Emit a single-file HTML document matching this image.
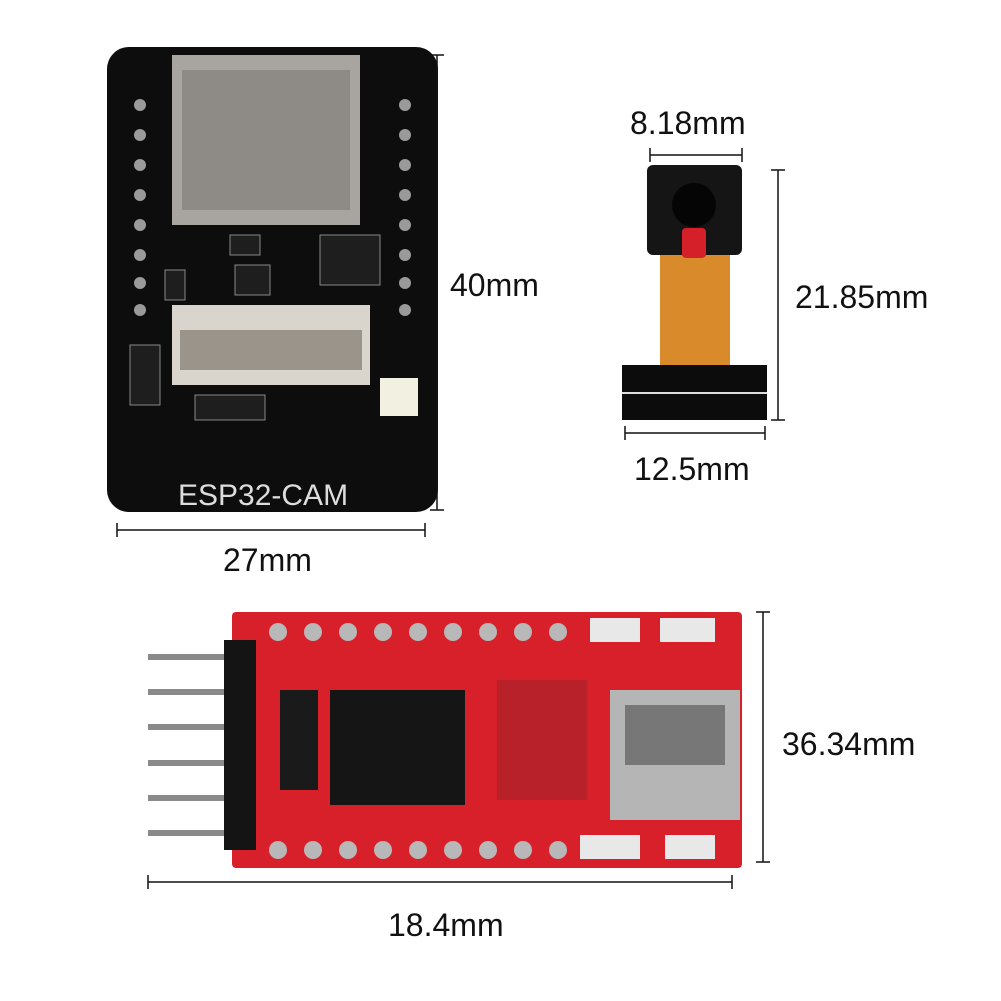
<!DOCTYPE html>
<html><head><style>
body{margin:0;width:1001px;height:1001px;background:#fff;position:relative;overflow:hidden;font-family:"Liberation Sans",sans-serif}
.t{position:absolute;font-size:32px;color:#111;white-space:nowrap}
</style></head><body>
<svg width="1001" height="1001" style="position:absolute;left:0;top:0">
<rect x="107" y="47" width="331" height="465" rx="22" fill="#0d0d0d"/>
<rect x="172" y="55" width="188" height="170" fill="#a8a5a0"/>
<rect x="182" y="70" width="168" height="140" fill="#8e8b86"/>
<rect x="172" y="305" width="198" height="80" fill="#d9d4cc"/>
<rect x="180" y="330" width="182" height="40" fill="#9a948a"/>
<rect x="380" y="378" width="38" height="38" fill="#f2f0e0"/>
<g fill="#1e1e1e" stroke="#888" stroke-width="1"><rect x="230" y="235" width="30" height="20"/><rect x="320" y="235" width="60" height="50"/><rect x="235" y="265" width="35" height="30"/><rect x="165" y="270" width="20" height="30"/><rect x="195" y="395" width="70" height="25"/><rect x="130" y="345" width="30" height="60"/></g>
<g fill="#9a9a9a">
<circle cx="140" cy="105" r="6"/><circle cx="140" cy="135" r="6"/><circle cx="140" cy="165" r="6"/><circle cx="140" cy="195" r="6"/><circle cx="140" cy="225" r="6"/><circle cx="140" cy="255" r="6"/><circle cx="140" cy="283" r="6"/><circle cx="140" cy="310" r="6"/>
<circle cx="405" cy="105" r="6"/><circle cx="405" cy="135" r="6"/><circle cx="405" cy="165" r="6"/><circle cx="405" cy="195" r="6"/><circle cx="405" cy="225" r="6"/><circle cx="405" cy="255" r="6"/><circle cx="405" cy="283" r="6"/><circle cx="405" cy="310" r="6"/>
</g>
<text x="178" y="505" font-size="30" fill="#ddd" font-family="Liberation Sans">ESP32-CAM</text>
<g stroke="#111" stroke-width="1.5">
<line x1="437" y1="55" x2="437" y2="510"/><line x1="430" y1="55" x2="444" y2="55"/><line x1="430" y1="510" x2="444" y2="510"/>
<line x1="117" y1="530" x2="425" y2="530"/><line x1="117" y1="523" x2="117" y2="537"/><line x1="425" y1="523" x2="425" y2="537"/>
<line x1="650" y1="155" x2="742" y2="155"/><line x1="650" y1="148" x2="650" y2="162"/><line x1="742" y1="148" x2="742" y2="162"/>
<line x1="778" y1="170" x2="778" y2="420"/><line x1="771" y1="170" x2="785" y2="170"/><line x1="771" y1="420" x2="785" y2="420"/>
<line x1="625" y1="433" x2="765" y2="433"/><line x1="625" y1="426" x2="625" y2="440"/><line x1="765" y1="426" x2="765" y2="440"/>
<line x1="763" y1="612" x2="763" y2="862"/><line x1="756" y1="612" x2="770" y2="612"/><line x1="756" y1="862" x2="770" y2="862"/>
<line x1="148" y1="882" x2="732" y2="882"/><line x1="148" y1="875" x2="148" y2="889"/><line x1="732" y1="875" x2="732" y2="889"/>
</g>
<rect x="660" y="250" width="70" height="118" fill="#d98a2a"/>
<rect x="647" y="165" width="95" height="90" rx="6" fill="#151515"/>
<circle cx="694" cy="205" r="22" fill="#050505"/>
<rect x="682" y="228" width="24" height="30" rx="4" fill="#d5202a"/>
<rect x="622" y="365" width="145" height="55" fill="#0c0c0c"/>
<line x1="622" y1="393" x2="767" y2="393" stroke="#ddd" stroke-width="2"/>
<g fill="#8a8a8a"><rect x="148" y="654" width="100" height="6"/><rect x="148" y="689" width="100" height="6"/><rect x="148" y="724" width="100" height="6"/><rect x="148" y="760" width="100" height="6"/><rect x="148" y="795" width="100" height="6"/><rect x="148" y="830" width="100" height="6"/></g>
<rect x="232" y="612" width="510" height="256" rx="4" fill="#d8202a"/>
<rect x="224" y="640" width="32" height="210" fill="#141414"/>
<g fill="#b8b8b8">
<circle cx="278" cy="632" r="9"/><circle cx="313" cy="632" r="9"/><circle cx="348" cy="632" r="9"/><circle cx="383" cy="632" r="9"/><circle cx="418" cy="632" r="9"/><circle cx="453" cy="632" r="9"/><circle cx="488" cy="632" r="9"/><circle cx="523" cy="632" r="9"/><circle cx="558" cy="632" r="9"/>
<circle cx="278" cy="850" r="9"/><circle cx="313" cy="850" r="9"/><circle cx="348" cy="850" r="9"/><circle cx="383" cy="850" r="9"/><circle cx="418" cy="850" r="9"/><circle cx="453" cy="850" r="9"/><circle cx="488" cy="850" r="9"/><circle cx="523" cy="850" r="9"/><circle cx="558" cy="850" r="9"/>
</g>
<rect x="280" y="690" width="38" height="100" fill="#1a1a1a"/>
<rect x="330" y="690" width="135" height="115" fill="#151515"/>
<rect x="610" y="690" width="130" height="130" fill="#b5b5b5"/>
<rect x="625" y="705" width="100" height="60" fill="#777"/>
<rect x="497" y="680" width="90" height="120" fill="#b8202a"/>
<g fill="#e8e8e8"><rect x="590" y="618" width="50" height="24"/><rect x="660" y="618" width="55" height="24"/><rect x="580" y="835" width="60" height="24"/><rect x="665" y="835" width="50" height="24"/></g>
</svg>
<div class="t" style="left:450px;top:267px">40mm</div>
<div class="t" style="left:223px;top:542px">27mm</div>
<div class="t" style="left:630px;top:105px">8.18mm</div>
<div class="t" style="left:795px;top:279px">21.85mm</div>
<div class="t" style="left:634px;top:451px">12.5mm</div>
<div class="t" style="left:782px;top:726px">36.34mm</div>
<div class="t" style="left:388px;top:907px">18.4mm</div>
</body></html>
